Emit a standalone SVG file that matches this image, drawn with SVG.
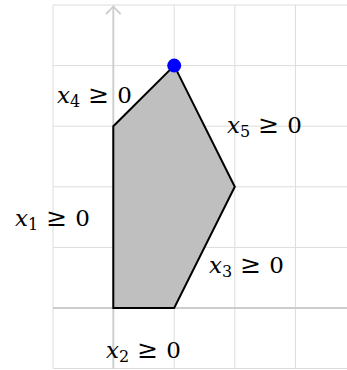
<svg xmlns="http://www.w3.org/2000/svg" width="347" height="370" viewBox="0 0 347 370">
<style>
.grid{stroke:#dcdcdc;stroke-width:1;fill:none}
.axis{stroke:#cccccc;stroke-width:1.8;fill:none}
.lbl{font-family:"DejaVu Serif",serif;font-size:23px;fill:#000}
.v{font-style:italic}
.s{font-size:16px}
.g{font-size:25px}
</style>
<rect width="347" height="370" fill="#fff"/>
<g id="grid">
<path class="grid" d="M53,5V368.5M113.6,5V368.5M174.2,5V368.5M234.8,5V368.5M295.4,5V368.5M53,5H347M53,65.6H347M53,126.2H347M53,186.8H347M53,247.4H347M53,308H347M53,368.5H347"/>
</g>
<g id="axes">
<path class="axis" d="M53,308H347"/>
<path class="axis" d="M113.3,368.5V6.5"/>
<path class="axis" d="M106.5,13.5Q111,9 113.3,6.5Q115.6,9 120.1,13.5" stroke-linecap="round"/>
</g>
<g id="region">
<polygon points="113.3,308 174.2,308 234.8,186.8 174.2,65.6 113.3,126.2" fill="#bfbfbf" stroke="#000" stroke-width="2" stroke-linejoin="miter"/>
</g>
<g id="vertex">
<circle cx="174.2" cy="65.6" r="7" fill="#0000ff"/>
</g>
<g id="labels">
<text class="lbl" x="57" y="103"><tspan class="v">x</tspan><tspan class="s" dy="4">4</tspan><tspan class="g" dy="-4" dx="8">≥</tspan><tspan dx="8">0</tspan></text>
<text class="lbl" x="227" y="133"><tspan class="v">x</tspan><tspan class="s" dy="4">5</tspan><tspan class="g" dy="-4" dx="8">≥</tspan><tspan dx="8">0</tspan></text>
<text class="lbl" x="15" y="226"><tspan class="v">x</tspan><tspan class="s" dy="4">1</tspan><tspan class="g" dy="-4" dx="8">≥</tspan><tspan dx="8">0</tspan></text>
<text class="lbl" x="209" y="273"><tspan class="v">x</tspan><tspan class="s" dy="4">3</tspan><tspan class="g" dy="-4" dx="8">≥</tspan><tspan dx="8">0</tspan></text>
<text class="lbl" x="106" y="358"><tspan class="v">x</tspan><tspan class="s" dy="4">2</tspan><tspan class="g" dy="-4" dx="8">≥</tspan><tspan dx="8">0</tspan></text>
</g>
</svg>
